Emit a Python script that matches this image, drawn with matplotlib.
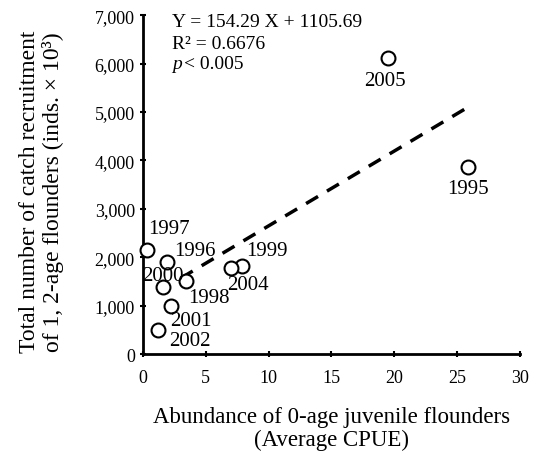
import matplotlib.pyplot as plt

plt.rcParams['font.family'] = ['Liberation Serif', 'DejaVu Serif']

# data
years = ['1995', '1996', '1997', '1998', '1999', '2000', '2001', '2002', '2004', '2005']
cpue = [25.9, 1.9, 0.3, 3.4, 7.9, 1.6, 2.2, 1.2, 7.0, 19.5]
recruit = [3870, 1900, 2150, 1500, 1825, 1380, 985, 500, 1770, 6110]
# label offsets in pixels (dx, dy)
label_off = [(0, -22), (28, 12), (22, 21), (23, -16), (25, 15), (0, 12),
             (20, -14), (32, -11), (17, -16), (-3, -22)]

slope, intercept = 154.29, 1105.69
fit_x = [3.0, 25.8]

xticks = [0, 5, 10, 15, 20, 25, 30]
yticks = [0, 1000, 2000, 3000, 4000, 5000, 6000, 7000]
ytick_labels = ['0', '1,000', '2,000', '3,000', '4,000', '5,000', '6,000', '7,000']

fig = plt.figure(figsize=(5.38, 4.6), dpi=100)
ax = fig.add_axes([0.266, 0.228, 0.7, 0.737])

ax.plot(fit_x, [slope * x + intercept for x in fit_x], ls=(0, (4, 3)),
        color='black', lw=2.5)
ax.plot(cpue, recruit, 'o', ms=10, mfc='white', mec='black', mew=1.5,
        clip_on=False, zorder=3)

for yr, x, y, off in zip(years, cpue, recruit, label_off):
    ax.annotate(yr, (x, y), xytext=off, textcoords='offset pixels',
                ha='center', va='center', fontsize=15)

ax.set_xlim(0, 30)
ax.set_ylim(0, 7000)
ax.set_xticks(xticks)
ax.set_yticks(yticks)
ax.set_yticklabels(ytick_labels)
ax.tick_params(labelsize=13, width=1.5, length=5, direction='inout')
ax.tick_params(axis='x', pad=8)
for s in ['top', 'right']:
    ax.spines[s].set_visible(False)
for s in ['left', 'bottom']:
    ax.spines[s].set_linewidth(2)

fig.text(0.616, 0.067, 'Abundance of 0-age juvenile flounders\n(Average CPUE)',
         fontsize=16.5, ha='center', va='center', multialignment='center',
         linespacing=1.1)
fig.text(0.077, 0.583,
         'Total number of catch recruitment\nof 1, 2-age flounders (inds. \u00d7 10\u00b3)',
         fontsize=17, ha='center', va='center', rotation=90,
         multialignment='center', linespacing=1.15)

fig.text(0.32, 0.952, 'Y = 154.29 X + 1105.69', fontsize=14, va='center')
fig.text(0.32, 0.904, 'R\u00b2 = 0.6676', fontsize=14, va='center')
fig.text(0.32, 0.859, 'p', fontsize=14, va='center', style='italic')
fig.text(0.342, 0.859, '< 0.005', fontsize=14, va='center')

fig.savefig('out.png', dpi=100)
